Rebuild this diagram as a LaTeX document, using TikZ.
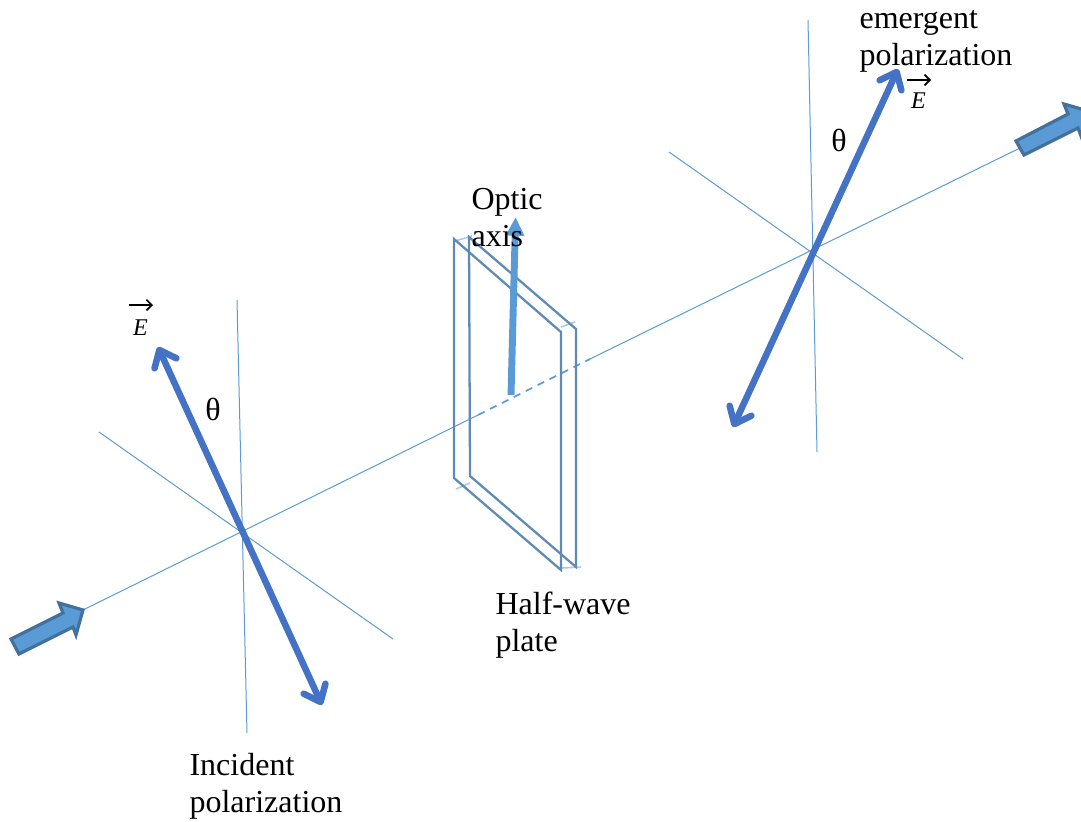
\documentclass[tikz,border=0pt]{standalone}
\usepackage{fontspec}
\setmainfont{Liberation Serif}
\usetikzlibrary{arrows.meta}
\definecolor{thinblue}{HTML}{5B9BD5}
\definecolor{polblue}{HTML}{4472C4}
\definecolor{platecol}{HTML}{5F8AB3}
\definecolor{palecol}{HTML}{A9CBEA}
\definecolor{beamedge}{HTML}{41719C}
\tikzset{
  thinline/.style={draw=thinblue,line width=0.75pt},
  polarrow/.style={draw=polblue,line width=4.9pt,{Straight Barb[length=11pt,width=18pt,round]}-{Straight Barb[length=11pt,width=18pt,round]}},
  plateedge/.style={draw=platecol,line width=1.7pt,line join=miter},
  palemark/.style={draw=palecol,line width=1.2pt},
  beam/.style={fill=thinblue,draw=beamedge,line width=2.4pt,line join=miter},
  label/.style={anchor=base west,inner sep=0pt,align=left,font=\fontsize{24}{27.75}\selectfont},
  theta/.style={inner sep=0pt,font=\fontsize{24}{28}\selectfont},
  efield/.style={inner sep=0pt,font=\fontsize{18}{20}\selectfont\itshape},
  earrow/.style={draw=black,line width=1.3pt,-{Straight Barb[length=4pt,width=8pt]}}
}
\begin{document}
\begin{tikzpicture}[x=0.75pt,y=-0.75pt]
\clip (0,0) rectangle (1081,821);
% centres and free ends
\coordinate (vLt) at (237,300); \coordinate (vLb) at (247,733);
\coordinate (dLa) at (99,432);  \coordinate (dLb) at (393,639);
\coordinate (vRt) at (808,20);  \coordinate (vRb) at (817,452);
\coordinate (dRa) at (669,152); \coordinate (dRb) at (963,359);
\coordinate (inTip) at (83,610);
\coordinate (dashA) at (478,415);
\coordinate (dashB) at (590,359);
\coordinate (outTail) at (1020,148);
% cross lines
\draw[thinline] (vLt) -- (vLb);
\draw[thinline] (dLa) -- (dLb);
\draw[thinline] (vRt) -- (vRb);
\draw[thinline] (dRa) -- (dRb);
% optical axis
\draw[thinline] (inTip) -- (dashA);
\draw[thinline,line width=1.3pt,dash pattern=on 5.5pt off 4.5pt] (dashA) -- (dashB);
\draw[thinline] (dashB) -- (outTail);
% half-wave plate
\coordinate (fTL) at (454,239); \coordinate (fTR) at (561,332);
\coordinate (fBR) at (561,570); \coordinate (fBL) at (454,478);
\coordinate (bTL) at (469,237); \coordinate (bTR) at (576,329);
\coordinate (bBR) at (576,567); \coordinate (bBL) at (470,476);
\draw[palemark] (455,241) -- (472,236);
\draw[palemark] (561,327) -- (575,322);
\draw[palemark] (456,489) -- (470,483);
\draw[palemark] (562,568) -- (581,567);
\draw[plateedge] (bTL) -- (bTR) -- (bBR) -- (bBL) -- cycle;
\draw[plateedge] (fTL) -- (fTR) -- (fBR) -- (fBL) -- cycle;
% optic axis arrow
\coordinate (oaBase) at (511,395);
\coordinate (oaTip) at (515.6,217);
\draw[draw=thinblue,line width=5.2pt,-{Triangle[length=14pt,width=13pt]}] (oaBase) -- (oaTip);
% polarization arrows
\coordinate (pLa) at (158,347); \coordinate (pLb) at (322,705);
\coordinate (pRa) at (898,69);  \coordinate (pRb) at (733,427);
\draw[polarrow] (pLa) -- (pLb);
\draw[polarrow] (pRa) -- (pRb);
% beam arrows
\draw[beam] (11,639) -- (63,613) -- (59,603) -- (83,610) -- (76,635) -- (73,627) -- (19,654) -- cycle;
\draw[beam] (1016,141) -- (1068,114) -- (1064,104) -- (1088,111) -- (1081,136) -- (1078,128) -- (1024,155) -- cycle;
% labels
\node[label] (optic) at (471.3,246) {Optic\\axis};
\node[label] (halfw) at (495.3,651) {Half-wave\\plate};
\node[label] (incid) at (189.3,812.5) {Incident\\polarization};
\node[label] (emerg) at (859.3,65) {emergent\\polarization};
\node[theta] (thL) at (213,409) {θ};
\node[theta] (thR) at (839,140) {θ};
\node[efield] (eL) at (140.5,328) {E};
\node[efield] (eR) at (918.5,101) {E};
\coordinate (eLa) at (129,305); \coordinate (eLb) at (153,305);
\coordinate (eRa) at (907,80);  \coordinate (eRb) at (931,80);
\draw[earrow] (eLa) -- (eLb);
\draw[earrow] (eRa) -- (eRb);
\end{tikzpicture}
\end{document}
